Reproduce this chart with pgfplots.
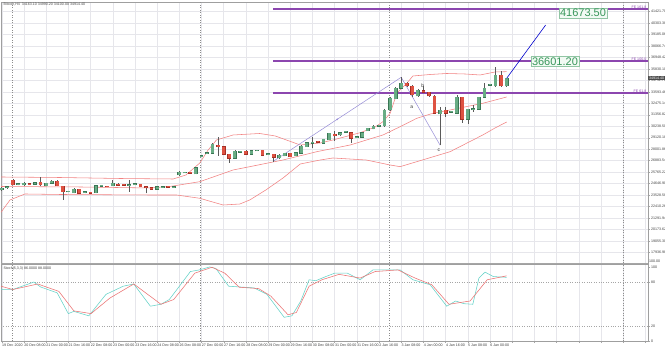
\documentclass[border=0pt]{standalone}
\usepackage{fontspec}
\setmainfont{Liberation Sans}
\usepackage{pgfplots}
\pgfplotsset{compat=1.18}
\usepackage{pgfplotstable}

\definecolor{bull}{RGB}{104,172,132}
\definecolor{bullD}{RGB}{58,118,84}
\definecolor{bear}{RGB}{222,82,66}
\definecolor{bearD}{RGB}{165,48,38}
\definecolor{wick}{RGB}{90,90,90}
\definecolor{band}{RGB}{242,130,130}
\definecolor{fib}{RGB}{140,70,175}
\definecolor{lav}{RGB}{150,140,215}
\definecolor{boxg}{RGB}{55,150,90}
\definecolor{boxf}{RGB}{242,250,244}
\definecolor{stk}{RGB}{100,210,200}
\definecolor{std}{RGB}{235,115,115}
\definecolor{gridc}{RGB}{230,230,235}

\newcommand\tf{\fontsize{3.6}{4}\selectfont}

\pgfplotstableread{
i o h l c
0 24020 24300 23950 24215
1 24215 24400 24150 24330
3 24560 24700 24480 24640
4 24507 24750 24450 24673
6 24575 24800 24520 24731
8 24410 24720 24380 24673
9 24673 24960 24620 24897
12 23830 23950 23780 23900
13 23756 24180 23700 24117
15 23760 23880 23700 23840
17 23756 24500 23700 24439
18 24380 24500 24350 24460
20 24410 24994 24380 24673
23 24470 24994 23854 24550
24 24530 24650 24500 24620
28 24088 24400 24050 24341
29 24270 24400 24250 24350
31 24270 24380 24260 24350
32 25482 25850 25420 25774
33 25680 25800 25650 25770
35 25579 26260 25530 26194
36 27290 27420 27260 27380
37 27580 27700 27560 27670
38 27599 28580 27550 28505
42 27111 27900 27060 27823
43 27710 27850 27680 27800
45 27501 27920 27450 27852
46 27830 27960 27800 27920
48 27460 27580 27430 27550
50 27140 27500 27090 27433
51 27335 27660 27290 27599
53 27335 27720 27290 27657
54 27599 28380 27550 28310
55 28242 28700 28200 28633
56 28590 29218 28086 28680
58 28574 29030 28530 28964
59 28896 29620 28850 29550
61 29384 29680 29330 29608
62 29660 29790 29640 29750
64 29120 29240 29100 29210
65 29160 29680 29110 29608
66 29803 30100 29750 30037
67 29969 30330 29920 30261
68 30220 30350 30200 30310
69 30261 31900 30200 31822
70 31822 33050 31750 32963
71 32895 34020 32850 33938
72 33938 35011 33880 34426
75 33188 33850 33120 33773
79 31432 32100 28394 31822
81 31610 31750 31580 31700
82 31500 33285 31430 33061
84 30915 31960 30456 31890
85 31850 32310 31656 31950
86 31890 33130 31830 33061
87 33061 34455 33000 33938
88 34220 34350 34180 34320
89 34163 36045 34100 35236
91 34163 34990 34100 34914
}\bulltab

\pgfplotstableread{
i o h l c
2 24950 25050 24460 24510
5 24620 24680 24500 24540
7 24770 25290 24450 24507
10 24897 24950 24360 24410
11 24410 24450 23044 23854
14 24088 24150 23650 23698
16 23800 23840 23680 23720
19 24390 24420 24280 24310
21 24605 24680 24420 24478
22 24580 24620 24470 24500
25 24575 24650 24300 24341
26 24341 24400 23698 24244
27 24244 24300 24030 24088
30 24360 24390 24250 24280
34 25750 25790 25640 25660
39 28408 29140 27335 28242
40 28242 28300 27450 27501
41 27501 27550 26652 27111
44 27823 27880 27450 27501
47 27872 27940 27330 27384
49 27501 27560 26750 27189
52 27599 27650 27220 27267
57 28780 28810 28660 28690
60 29481 29803 28828 29286
63 29608 29680 28633 29062
73 34426 34550 34100 34163
74 34163 34230 33061 33285
76 33705 34163 33480 33549
77 33549 33620 33120 33188
78 33188 33260 31430 31500
80 31822 32145 31170 31500
83 33061 33130 30554 30915
90 35236 35655 34100 34163
}\beartab

\pgfplotstableread{
i up
-0.12 25287
10.5 25237
21.3 25140
30.9 25091
33.2 25482
35.7 26652
37.2 27920
38.7 28896
41.7 29384
46.5 29530
49.3 29286
53.8 28408
57.4 28603
59.7 28896
64.6 29608
67.3 30164
68.7 30680
70.0 31500
71.2 33451
73.0 34426
74.1 35138
77.2 35284
80.2 35382
83.5 35333
86.2 35236
88.9 35528
91 35558
}\uptab

\pgfplotstableread{
i mid
-0.12 24360
14.1 24312
26.7 24215
30.3 24360
35.7 24829
41.7 25969
44.7 26292
50.7 26945
56.8 27755
62.8 28408
68.7 29384
71.8 30193
74.8 31012
77.7 31500
80.8 31822
86.7 32477
91 33090
}\midtab

\pgfplotstableread{
i lo
-0.12 21850
1.5 23044
4.2 23629
10.5 23580
26.7 23531
31.5 23531
35.7 23209
39.9 22555
42.9 22650
44.7 23044
47.6 24020
50.7 25189
53.8 26553
57.4 26944
59.7 27140
65.7 26944
70.0 26456
71.8 26294
74.8 26782
80.8 27755
86.7 29384
88.9 30066
91 30651
}\lotab

\pgfplotstableread{
i k
-0.12 69.5
2 69.5
5.8 79.6
7 73
10 65
12 37
13 40
15.7 34
18.8 63
21.9 74
23.8 77
26.8 47
28.7 49.6
30.2 56
31.8 71.7
34 93.8
35.6 96
37.5 100
38.6 98
40.9 74
45.5 71.7
47.8 63
50.9 32
52.3 34
53.9 54
55.4 82.7
56.6 81.4
58.4 87
60 91.6
62.3 91.6
64.6 82.7
66.9 96
70 96
71.8 96
74.1 82.7
77.2 76
80.2 47
81.8 54
83.3 50.4
84.9 49.6
86 85
87.1 93
88.6 87
91 86
}\ktab

\pgfplotstableread{
i d
-0.12 74
2 69.5
6.5 77
10.3 67
13 40.7
16.1 37
19.5 58
23.8 77
28.7 49.6
31 56
34.8 91.6
37.9 99.6
40.2 91.6
42.8 72.6
46.3 70.8
48.5 60.6
51.6 35.4
53.1 38.5
55.4 74
57.7 82.7
60.8 90
64.6 85
67.3 93.8
71.4 96
74.5 85
77.5 76
80.6 49.6
84.4 54
87.5 82.7
91 88
}\dtab

\begin{document}
\begin{tikzpicture}[x=1pt,y=1pt]
\path[use as bounding box] (0,0) rectangle (665,352);
\fill[white] (0,0) rectangle (665,352);

% ---------------- upper panel ----------------
\begin{axis}[
  at={(1pt,89pt)}, anchor=south west,
  width=647pt, height=261pt, scale only axis,
  xmin=-0.126, xmax=116.47, ymin=16898, ymax=42356,
  clip=false,
  scaled y ticks=false,
  axis line style={gray!75, line width=0.5pt},
  xtick={0,4,...,116}, xticklabels=\empty,
  ytick={41421.70,40303.38,39185.06,38066.74,36948.42,35830.10,34711.78,33593.46,32475.14,31356.82,30238.50,29120.18,28001.86,26883.54,25765.22,24646.90,23528.58,22410.26,21291.94,20173.62,19055.30,17936.98},
  ytick pos=right, xtick pos=bottom,
  tick align=outside, major tick length=2pt,
  tick style={gray!70, line width=0.3pt},
  yticklabel style={font=\tf, text=black!75, anchor=west, inner sep=1pt,
    /pgf/number format/.cd, fixed, fixed zerofill, precision=2, 1000 sep={}, assume math mode=true},
  grid=major, major grid style={gridc, line width=0.35pt},
]
% separators
\addplot[black!45, dotted, line width=0.5pt] coordinates {(1.86,16898) (1.86,42356)};
\addplot[black!45, dotted, line width=0.5pt] coordinates {(35.86,16898) (35.86,42356)};
\addplot[black!45, dotted, line width=0.5pt] coordinates {(69.86,16898) (69.86,42356)};
\addplot[black!45, dotted, line width=0.5pt] coordinates {(111.97,16898) (111.97,42356)};

% Bollinger bands
\addplot[band, line width=0.55pt] table[x=i, y=up] {\uptab};
\addplot[band, line width=0.55pt] table[x=i, y=mid] {\midtab};
\addplot[band, line width=0.55pt] table[x=i, y=lo] {\lotab};

% Fibonacci expansion levels
\addplot[fib, line width=1.3pt] coordinates {(48.9,41673.5) (116.47,41673.5)};
\addplot[fib, line width=1.3pt] coordinates {(48.9,36601.2) (116.47,36601.2)};
\addplot[fib, line width=1.3pt] coordinates {(48.9,33465.9) (116.47,33465.9)};
\node[font=\tf, text=fib, anchor=south east, inner sep=0.6pt] at (axis cs:116.3,41673.5) {FE 161.8};
\node[font=\tf, text=fib, anchor=south east, inner sep=0.6pt] at (axis cs:116.3,36601.2) {FE 100.0};
\node[font=\tf, text=fib, anchor=south east, inner sep=0.6pt] at (axis cs:116.3,33465.9) {FE 61.8};

% wave lines
\addplot[lav, line width=0.5pt] coordinates {(48.9,26803.4) (72,35011)};
\addplot[lav, line width=0.5pt] coordinates {(72,35011) (79,28393.6)};
\addplot[lav, only marks, mark=o, mark size=0.7pt] coordinates {(60.45,30907)};
\node[font=\fontsize{5}{5}\selectfont, text=black!80] at (axis cs:73.9,32115) {a};
\node[font=\fontsize{5}{5}\selectfont, text=black!80] at (axis cs:75.9,34163) {b};
\node[font=\fontsize{5}{5}\selectfont, text=black!80] at (axis cs:78.8,27920) {c};

% wicks
\addplot[draw=none, forget plot, error bars/.cd, y dir=plus, y explicit, error mark=none,
  error bar style={draw=wick, line width=0.45pt, solid}]
  table[x=i, y=l, y error expr=\thisrow{h}-\thisrow{l}] {\bulltab};
\addplot[draw=none, forget plot, error bars/.cd, y dir=plus, y explicit, error mark=none,
  error bar style={draw=wick, line width=0.45pt, solid}]
  table[x=i, y=l, y error expr=\thisrow{h}-\thisrow{l}] {\beartab};
% bodies: outline layer
\addplot[draw=none, forget plot, error bars/.cd, y dir=plus, y explicit, error mark=none,
  error bar style={draw=bullD, line width=3.8pt, solid}]
  table[x=i, y expr=\thisrow{o}-45, y error expr=\thisrow{c}-\thisrow{o}+90] {\bulltab};
\addplot[draw=none, forget plot, error bars/.cd, y dir=plus, y explicit, error mark=none,
  error bar style={draw=bearD, line width=3.8pt, solid}]
  table[x=i, y expr=\thisrow{c}-45, y error expr=\thisrow{o}-\thisrow{c}+90] {\beartab};
% bodies: fill layer
\addplot[draw=none, forget plot, error bars/.cd, y dir=plus, y explicit, error mark=none,
  error bar style={draw=bull, line width=2.9pt, solid}]
  table[x=i, y=o, y error expr=\thisrow{c}-\thisrow{o}] {\bulltab};
\addplot[draw=none, forget plot, error bars/.cd, y dir=plus, y explicit, error mark=none,
  error bar style={draw=bear, line width=2.9pt, solid}]
  table[x=i, y=c, y error expr=\thisrow{o}-\thisrow{c}] {\beartab};

% projection line
\addplot[blue!80!black, line width=0.6pt] coordinates {(91,34914) (98.03,40113)};

% target boxes
\node[draw=boxg!55, fill=boxf, text=boxg, font=\fontsize{11}{12}\selectfont, inner sep=1.2pt] at (axis cs:104.76,41283) {41673.50};
\node[draw=boxg!55, fill=boxf, text=boxg, font=\fontsize{11}{12}\selectfont, inner sep=1.2pt] at (axis cs:99.7,36572) {36601.20};

% current price
\node[fill=black!70, text=white, font=\tf, anchor=west, inner sep=0.8pt] at (axis cs:116.47,34914) {34914.40};
% title
\node[font=\tf, text=black!70, anchor=north west, inner sep=0pt] at (axis cs:0.3,42250) {Bitcoin,H4\ \ 34163.10 34990.20 34100.00 34914.40};
\end{axis}

% separator between panels
\draw[gray!70, line width=1.4pt] (1,88.3) -- (648,88.3);

% ---------------- stochastic panel ----------------
\begin{axis}[
  at={(1pt,11pt)}, anchor=south west,
  width=647pt, height=77pt, scale only axis,
  xmin=-0.126, xmax=116.47, ymin=0, ymax=104,
  clip=false,
  axis line style={gray!75, line width=0.5pt},
  xtick={0,4,...,116},
  xticklabels={19 Dec 2020,20 Dec 08:00,21 Dec 00:00,21 Dec 16:00,22 Dec 08:00,23 Dec 00:00,23 Dec 16:00,24 Dec 08:00,26 Dec 08:00,27 Dec 00:00,27 Dec 16:00,28 Dec 08:00,29 Dec 00:00,29 Dec 16:00,30 Dec 08:00,31 Dec 00:00,31 Dec 16:00,2 Jan 16:00,3 Jan 08:00,4 Jan 00:00,4 Jan 16:00,5 Jan 08:00,6 Jan 00:00,{},{},{},{},{},{},{}},
  xticklabel style={font=\tf, text=black!75, anchor=north west, inner sep=0.8pt, xshift=-0.6pt},
  ytick={0,20,80,100},
  ytick pos=right, xtick pos=bottom,
  tick align=outside, major tick length=2pt,
  tick style={gray!70, line width=0.3pt},
  yticklabel style={font=\tf, text=black!75, anchor=west, inner sep=1pt},
  /pgf/number format/assume math mode=true,
  xmajorgrids=true, major grid style={gridc, line width=0.35pt},
]
\addplot[black!45, dotted, line width=0.5pt] coordinates {(1.86,0) (1.86,104)};
\addplot[black!45, dotted, line width=0.5pt] coordinates {(35.86,0) (35.86,104)};
\addplot[black!45, dotted, line width=0.5pt] coordinates {(69.86,0) (69.86,104)};
\addplot[black!45, dotted, line width=0.5pt] coordinates {(111.97,0) (111.97,104)};
\addplot[black!35, dotted, line width=0.4pt] coordinates {(-0.126,80) (116.47,80)};
\addplot[black!35, dotted, line width=0.4pt] coordinates {(-0.126,20) (116.47,20)};
\addplot[stk, line width=0.55pt] table[x=i, y=k] {\ktab};
\addplot[std, line width=0.55pt] table[x=i, y=d] {\dtab};
\node[font=\tf, text=black!75, anchor=north west, inner sep=0pt] at (axis cs:0.3,101) {Stoch(5,3,3) 86.0000 88.0000};
\node[font=\tf, text=black!75, anchor=south west, inner sep=0.8pt] at (axis cs:116.47,104) {100.00};
\end{axis}
\end{tikzpicture}
\end{document}
